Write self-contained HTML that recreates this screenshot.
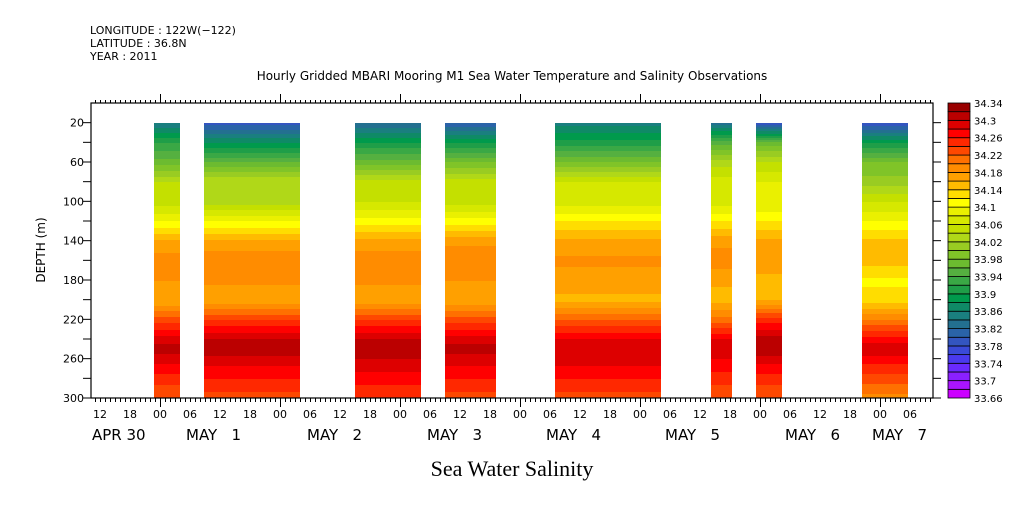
<!DOCTYPE html>
<html><head><meta charset="utf-8"><style>
body{margin:0;background:#fff;width:1009px;height:504px;overflow:hidden}
text{font-family:"DejaVu Sans","Liberation Sans",sans-serif;fill:#000}
.pre{white-space:pre}
</style></head><body>
<svg id="chart" width="1009" height="504" xmlns="http://www.w3.org/2000/svg">
<g font-size="11">
<text x="90" y="34">LONGITUDE : 122W(−122)</text>
<text x="90" y="47">LATITUDE : 36.8N</text>
<text x="90" y="60">YEAR : 2011</text>
</g>
<text x="512" y="80" font-size="12" text-anchor="middle">Hourly Gridded MBARI Mooring M1 Sea Water Temperature and Salinity Observations</text>
<text x="512" y="476" font-size="22" text-anchor="middle" style="font-family:'Liberation Serif',serif">Sea Water Salinity</text>
<text transform="translate(45,250) rotate(-90)" font-size="12" text-anchor="middle">DEPTH (m)</text>
<g id="field"></g>
<g id="axes"></g>
<g id="cbar"></g>
</svg>
<script>
const depths=[20,40,60,80,100,120,140,160,180,200,220,240,250,260,280,300];
const segStart=[-1.2,8.8,39,57,79,110.2,119.2,140.4];
const segEnd=[4,28,52.2,67.2,100.2,114.4,124.4,149.6];
const prof1=[33.84,33.92,33.97,34.04,34.05,34.10,34.165,34.19,34.18,34.16,34.23,34.29,34.31,34.29,34.25,34.22];
const prof2=[33.79,33.88,33.96,34.04,34.03,34.10,34.165,34.195,34.185,34.165,34.24,34.30,34.32,34.29,34.26,34.23];
const prof3=[33.82,33.90,33.97,34.05,34.06,34.11,34.165,34.195,34.185,34.165,34.24,34.30,34.32,34.30,34.27,34.24];
const prof4=[33.80,33.90,33.98,34.05,34.05,34.11,34.175,34.195,34.18,34.165,34.23,34.29,34.31,34.29,34.26,34.23];
const prof5=[33.85,33.91,33.98,34.06,34.07,34.12,34.165,34.185,34.17,34.155,34.22,34.28,34.30,34.29,34.26,34.23];
const prof6=[33.83,33.95,34.03,34.07,34.07,34.12,34.175,34.19,34.165,34.15,34.21,34.28,34.30,34.28,34.25,34.22];
const prof7=[33.78,33.97,34.04,34.08,34.08,34.12,34.165,34.18,34.15,34.16,34.25,34.31,34.32,34.29,34.25,34.22];
const prof8=[33.78,33.90,33.98,34.01,34.06,34.10,34.145,34.15,34.115,34.13,34.20,34.27,34.30,34.27,34.23,34.19];
const profiles=[prof1,prof2,prof3,prof4,prof5,prof6,prof7,prof8];
const levelMin=33.66, levelStep=0.02;
const palette=["#cc00ff","#aa14ff","#8a20ff","#6a2aff","#4a3aee","#3a4ad8","#3355c0","#2a63a8","#237090","#1a7f7f","#0f8a66","#009a4c","#1f9e48","#3aa845","#55b040","#6cbb30","#80c428","#99cc22","#b0d818","#c4e000","#d6e800","#eaf000","#ffff00","#ffdd00","#ffbb00","#ffa000","#ff8c00","#ff7000","#ff4800","#ff2800","#ff0000","#dd0000","#bb0000","#990000"];
const cbarLabels=["33.66","33.7","33.74","33.78","33.82","33.86","33.9","33.94","33.98","34.02","34.06","34.1","34.14","34.18","34.22","34.26","34.3","34.34"];
const hourLabels=["12","18","00","06"];
const dayLabels=["APR 30","MAY   1","MAY   2","MAY   3","MAY   4","MAY   5","MAY   6","MAY   7"];
const yTicks=[20,60,100,140,180,220,260,300];

const NS="http://www.w3.org/2000/svg";
const L=91,R=933,T=103,B=398;
const dayX=[92,186,307,427,546,665,785,872];
const xs=h=>160+h*5;
const ys=d=>T+(d/300)*(B-T);
function el(tag,attrs,parent){const e=document.createElementNS(NS,tag);for(const k in attrs)e.setAttribute(k,attrs[k]);parent.appendChild(e);return e;}
function interp(p,d){if(d<=depths[0])return p[0];for(let i=1;i<depths.length;i++){if(d<=depths[i]){const t=(d-depths[i-1])/(depths[i]-depths[i-1]);return p[i-1]+t*(p[i]-p[i-1]);}}return p[p.length-1];}
function lev(v){let i=Math.floor((v-levelMin)/levelStep+1e-9);return Math.max(0,Math.min(palette.length-1,i));}
const field=document.getElementById('field');
profiles.forEach((p,si)=>{
  const x0=xs(segStart[si]),x1=xs(segEnd[si]);
  const y0=Math.round(ys(20)),y1=Math.round(ys(300));
  let runStart=y0,runC=lev(interp(p,20));
  for(let y=y0;y<=y1;y++){
    const d=(y-T)/(B-T)*300;const c=y<y1?lev(interp(p,d)):-1;
    if(c!==runC){
      const r=el('rect',{x:x0,y:runStart,width:x1-x0,height:y-runStart,fill:palette[runC]},field);
      
      
      runStart=y;runC=c;
    }
  }
});
const ax=document.getElementById('axes');
el('rect',{x:L,y:T,width:R-L,height:B-T,fill:'none',stroke:'#000','stroke-width':1.2},ax);
for(let h=-14;h<=154;h++){
  const x=xs(h)+0.5;if(x<L||x>R)continue;
  const major=((h%24)+24)%24===0;
  el('line',{x1:x,y1:T,x2:x,y2:T-(major?9:3),stroke:'#000'},ax);
  el('line',{x1:x,y1:B,x2:x,y2:B+(major?9:4),stroke:'#000'},ax);
}
for(let h=-12;h<=150;h+=6){
  const t=el('text',{x:xs(h),y:418,'font-size':11,'text-anchor':'middle'},ax);
  
  
  t.textContent=hourLabels[((h/6)%4+4+2)%4];
}
dayLabels.forEach((s,i)=>{
  const t=el('text',{x:dayX[i],y:440,'font-size':15,'class':'pre'},ax);
  
  
  t.textContent=s;
});
for(let d=20;d<=300;d+=20){
  el('line',{x1:L,y1:ys(d),x2:L-8,y2:ys(d),stroke:'#000'},ax);
  el('line',{x1:R,y1:ys(d),x2:R+8,y2:ys(d),stroke:'#000'},ax);
}
yTicks.forEach(d=>{
  const t=el('text',{x:84,y:ys(d)+4,'font-size':11,'text-anchor':'end'},ax);
  
  
  t.textContent=String(d);
});
const cb=document.getElementById('cbar');
const n=palette.length,bh=(B-T)/n;
palette.forEach((c,i)=>{
  const r=el('rect',{x:948,y:B-(i+1)*bh,width:22,height:bh,fill:c,stroke:'#000','stroke-width':0.8},cb);
  
  
});
cbarLabels.forEach((s,i)=>{
  const t=el('text',{x:974,y:B-i*2*bh+4,'font-size':10},cb);
  
  
  t.textContent=s;
});
</script>
</body></html>
